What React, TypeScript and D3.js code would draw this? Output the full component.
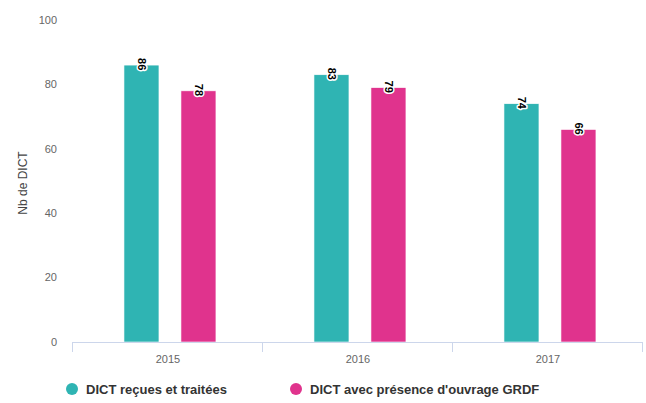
import * as d3 from 'd3';

const years = ['2015', '2016', '2017'];
const seriesNames = ['DICT reçues et traitées', "DICT avec présence d'ouvrage GRDF"];
const receivedValues = [86, 83, 74];
const grdfValues = [78, 79, 66];
const yTicks = [0, 20, 40, 60, 80, 100];
const colors = ['#2fb4b3', '#e0338d'];

export default function App() {
  const width = 646;
  const height = 403;
  const margin = { top: 20, right: 3, bottom: 61, left: 73 };

  const x = d3
    .scaleBand<string>()
    .domain(years)
    .range([margin.left, width - margin.right]);

  const inner = d3
    .scaleBand<number>()
    .domain([0, 1])
    .range([0, x.bandwidth()])
    .paddingInner(0.386)
    .paddingOuter(0.86)
    .align(0.52);

  const y = d3
    .scaleLinear()
    .domain([0, 100])
    .range([height - margin.bottom, margin.top]);

  const series = [receivedValues, grdfValues];
  const baseY = y(0);
  const font = 'Arial, "Liberation Sans", Helvetica, sans-serif';

  return (
    <svg
      width={width}
      height={height}
      style={{ position: 'absolute', left: 0, top: 0, fontFamily: font }}
    >
      <rect width={width} height={height} fill="#fff" />

      {/* y axis labels */}
      {yTicks.map((t) => (
        <text
          key={t}
          x={57}
          y={y(t)}
          dy="0.35em"
          textAnchor="end"
          fontSize={11}
          fill="#666"
        >
          {t}
        </text>
      ))}
      <text
        transform={`translate(23, ${(y(0) + y(100)) / 2 + 2}) rotate(-90)`}
        textAnchor="middle"
        dy="0.35em"
        fontSize={12}
        fill="#444"
      >
        Nb de DICT
      </text>

      {/* bars */}
      {series.map((values, si) =>
        values.map((v, i) => {
          const bx = (x(years[i]) ?? 0) + (inner(si) ?? 0);
          return (
            <rect
              key={`${si}-${i}`}
              x={bx}
              y={y(v)}
              width={inner.bandwidth()}
              height={baseY - y(v)}
              fill={colors[si]}
              stroke="#fff"
              strokeWidth={0.6}
            />
          );
        })
      )}

      {/* x axis */}
      <line
        x1={margin.left}
        x2={width - margin.right}
        y1={baseY + 0.5}
        y2={baseY + 0.5}
        stroke="#ccd6eb"
      />
      {[...years.map((yr) => x(yr) ?? 0), width - margin.right].map((tx, i) => (
        <line
          key={i}
          x1={tx - 0.5}
          x2={tx - 0.5}
          y1={baseY}
          y2={baseY + 10}
          stroke="#ccd6eb"
        />
      ))}
      {years.map((yr) => (
        <text
          key={yr}
          x={(x(yr) ?? 0) + x.bandwidth() / 2}
          y={baseY + 17}
          dy="0.35em"
          textAnchor="middle"
          fontSize={11}
          fill="#666"
        >
          {yr}
        </text>
      ))}

      {/* data labels */}
      {series.map((values, si) =>
        values.map((v, i) => {
          const cx = (x(years[i]) ?? 0) + (inner(si) ?? 0) + inner.bandwidth() / 2;
          return (
            <text
              key={`l-${si}-${i}`}
              transform={`translate(${cx}, ${y(v) - 7}) rotate(90)`}
              dy="0.35em"
              fontSize={11}
              fontWeight="bold"
              fill="#000"
              stroke="#fff"
              strokeWidth={3}
              strokeLinejoin="round"
              paintOrder="stroke"
            >
              {v}
            </text>
          );
        })
      )}

      {/* legend */}
      {seriesNames.map((name, si) => {
        const lx = si === 0 ? 72 : 296;
        return (
          <g key={name}>
            <circle cx={lx} cy={389} r={6} fill={colors[si]} />
            <text
              x={lx + 14}
              y={389}
              dy="0.35em"
              fontSize={13}
              fontWeight="bold"
              fill="#333"
            >
              {name}
            </text>
          </g>
        );
      })}
    </svg>
  );
}
